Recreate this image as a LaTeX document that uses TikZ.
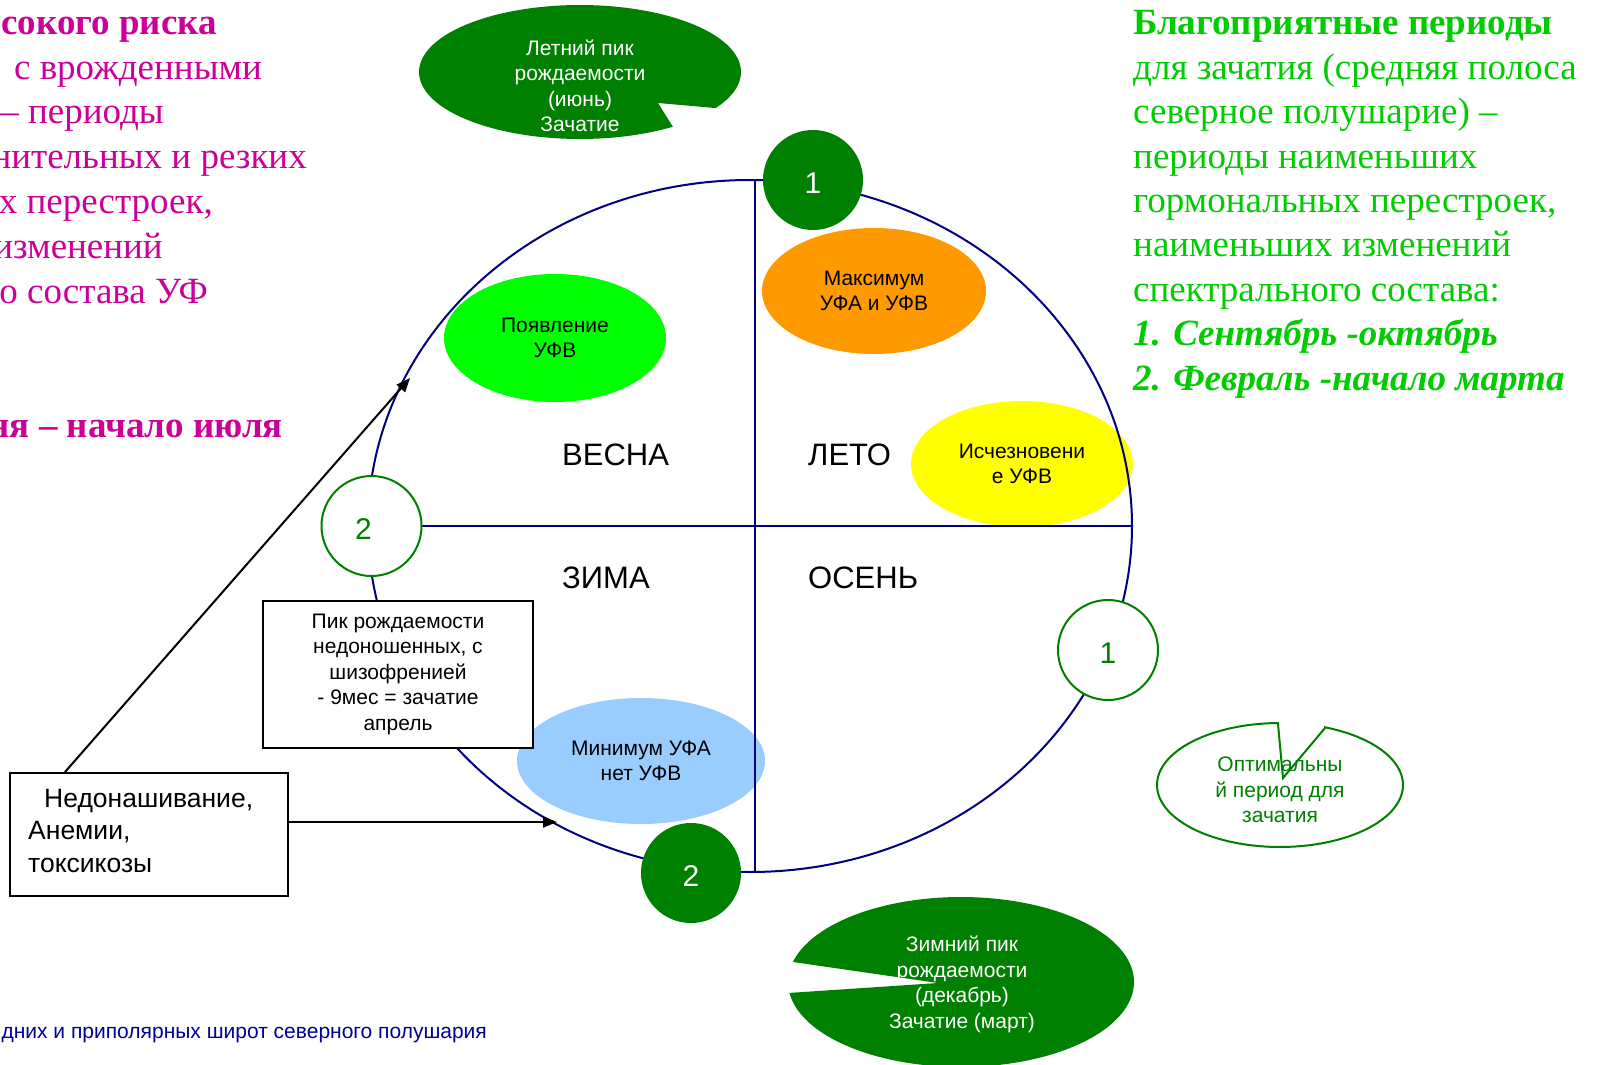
\documentclass[tikz,border=0pt]{standalone}
\usepackage{fontspec}
\setmainfont{Liberation Serif}
\setsansfont{Liberation Sans}
\usetikzlibrary{shapes.geometric,arrows.meta}
\definecolor{dkgreen}{RGB}{0,128,0}
\definecolor{ltgreen}{RGB}{0,255,0}
\definecolor{brgreen}{RGB}{0,204,0}
\definecolor{magentatext}{RGB}{204,0,153}
\definecolor{navyline}{RGB}{0,0,128}
\definecolor{bluetext}{RGB}{0,0,153}
\definecolor{uvorange}{RGB}{255,153,0}
\definecolor{uvyellow}{RGB}{255,255,0}
\definecolor{uvblue}{RGB}{153,204,255}
\newcommand\pxsize[2]{\fontsize{#1}{#2}\selectfont}
% a digit set with its centre 3pt below the centre of its marker
\newcommand\digitlow[1]{\raisebox{-13.75pt}[0pt][0pt]{#1}}

\begin{document}
\begin{tikzpicture}[x=1pt,y=-1pt,
  every node/.style={inner sep=0pt},
  axisline/.style={draw=navyline,line width=2pt},
  blob/.style={ellipse,inner sep=0pt,font=\sffamily\pxsize{21}{25.5},align=center},
  numfill/.style={circle,minimum size=100pt,fill=dkgreen,text=white,font=\sffamily\pxsize{30}{36}},
  numopen/.style={circle,minimum size=100pt,draw=dkgreen,line width=2pt,fill=white,text=dkgreen,font=\sffamily\pxsize{30}{36}},
  season/.style={anchor=west,font=\sffamily\pxsize{31}{37}},
  textbox/.style={rectangle,draw=black,line width=2pt,fill=white},
  arr/.style={draw=black,line width=2pt,-{Triangle[length=14pt,width=11pt]}},
  riskline/.style={anchor=base east,text=magentatext,font=\pxsize{37}{44.4}},
  calltext/.style={font=\sffamily\pxsize{21}{25.5},align=center},
]
\useasboundingbox (0,0) rectangle (1599,1065);
\clip (0,0) rectangle (1599,1065);

% ---- left column: periods of high risk ----
\node[riskline] (r1) at (217,35) {\bfseries сокого риска};
\node[riskline] (r2) at (262,80) {с врожденными};
\node[riskline] (r3) at (164,123) {– периоды};
\node[riskline] (r4) at (307,168) {нительных и резких};
\node[riskline] (r5) at (213,213) {х перестроек,};
\node[riskline] (r6) at (163,258) {изменений};
\node[riskline] (r7) at (208,303) {о состава УФ};
\node[riskline] (r8) at (283,437) {\bfseries ня – начало июля};

% ---- right column: favourable periods ----
\node[anchor=north west,align=left,text=brgreen,font=\pxsize{37}{44.4}] (good) at (1133,10.5)
  {\textbf{Благоприятные периоды}\\
   для зачатия (средняя полоса\\
   северное полушарие) –\\
   периоды наименьших\\
   гормональных перестроек,\\
   наименьших изменений\\
   спектрального состава:\\
   \textbf{\itshape 1. Сентябрь -октябрь}\\
   \textbf{\itshape 2. Февраль -начало марта}};

% ---- UV blobs ----
\node[blob,fill=ltgreen,minimum width=222pt,minimum height=128pt] (uvbon) at (555,338) {Появление\\УФВ};
\node[blob,fill=uvorange,minimum width=224pt,minimum height=126pt] (uvmax) at (874,291) {Максимум\\УФА и УФВ};
\node[blob,fill=uvyellow,minimum width=222pt,minimum height=126pt] (uvoff) at (1022,464) {Исчезновени\\е УФВ};
\node[blob,fill=uvblue,minimum width=248pt,minimum height=126pt] (uvmin) at (641,761) {Минимум УФА\\нет УФВ};

% ---- year circle and its quadrants, over the blobs ----
\draw[axisline] (750,526) ellipse [x radius=382pt, y radius=346pt];
\coordinate (eT) at (755,180);
\coordinate (eB) at (755,872);
\coordinate (eL) at (420,526);
\coordinate (eR) at (1132,526);
\draw[axisline] (eT) -- (eB);
\draw[axisline] (eL) -- (eR);

\node[season] (spring) at (562,455) {ВЕСНА};
\node[season] (summer) at (808,455) {ЛЕТО};
\node[season] (winter) at (562,578) {ЗИМА};
\node[season] (autumn) at (808,578) {ОСЕНЬ};

% ---- numbered markers ----
\node[numfill] (n1top) at (813,180) {\digitlow{1}};
\node[numopen] (n2left) at (371.5,526) {\makebox[0pt]{\digitlow{2}\hspace*{16pt}}};
\node[numopen] (n1right) at (1108,650) {\digitlow{1}};
\node[numfill] (n2bot) at (691,873) {\digitlow{2}};

% ---- boxes ----
\node[textbox,minimum width=270pt,minimum height=147pt,align=center,font=\sffamily\pxsize{21}{25.5}] (pikbox) at (398,674)
  {Пик рождаемости\\недоношенных, с\\шизофренией\\- 9мес = зачатие\\апрель};
\node[textbox,minimum width=278pt,minimum height=123pt] (nedon) at (149,834.5) {};
\node[anchor=north west,align=left,font=\sffamily\pxsize{26.5}{32.5}] (nedontext) at (28,789)
  {\hspace*{16pt}Недонашивание,\\Анемии,\\токсикозы};

% ---- callouts ----
\fill[dkgreen] (715,108) -- (658,103) -- (673,127)
  -- plot[domain=54.8:392.5,samples=160] ({580+161*cos(\x)},{72+67*sin(\x)}) -- cycle;
\node[calltext,text=white] (summerpeak) at (580,86) {Летний пик\\рождаемости\\(июнь)\\Зачатие};

\fill[dkgreen] (788,993) -- (938,983) -- (793,962)
  -- plot[domain=193.6:532.6,samples=160] ({961+173*cos(\x)},{982+85*sin(\x)}) -- cycle;
\node[calltext,text=white] (winterpeak) at (962,984.5) {Зимний пик\\рождаемости\\(декабрь)\\Зачатие (март)};

\draw[dkgreen,line width=2pt,fill=white] (1278,724) -- (1283,778) -- (1325,728)
  -- plot[domain=291.5:629,samples=160] ({1280+123*cos(\x)},{785+62*sin(\x)}) -- cycle;
\node[calltext,text=dkgreen] (optimal) at (1280,790) {Оптимальны\\й период для\\зачатия};

% ---- arrows from the risk box ----
\coordinate (tipA) at (410,378);
\coordinate (tipB) at (557,822);
\draw[arr] ([xshift=56pt]nedon.north west) -- (tipA);
\draw[arr] ([yshift=12.5pt]nedon.east) -- (tipB);

% ---- footnote ----
\node[anchor=base east,text=bluetext,font=\sffamily\pxsize{21}{25}] (foot) at (487,1038)
  {дних и приполярных широт северного полушария};
\end{tikzpicture}
\end{document}
